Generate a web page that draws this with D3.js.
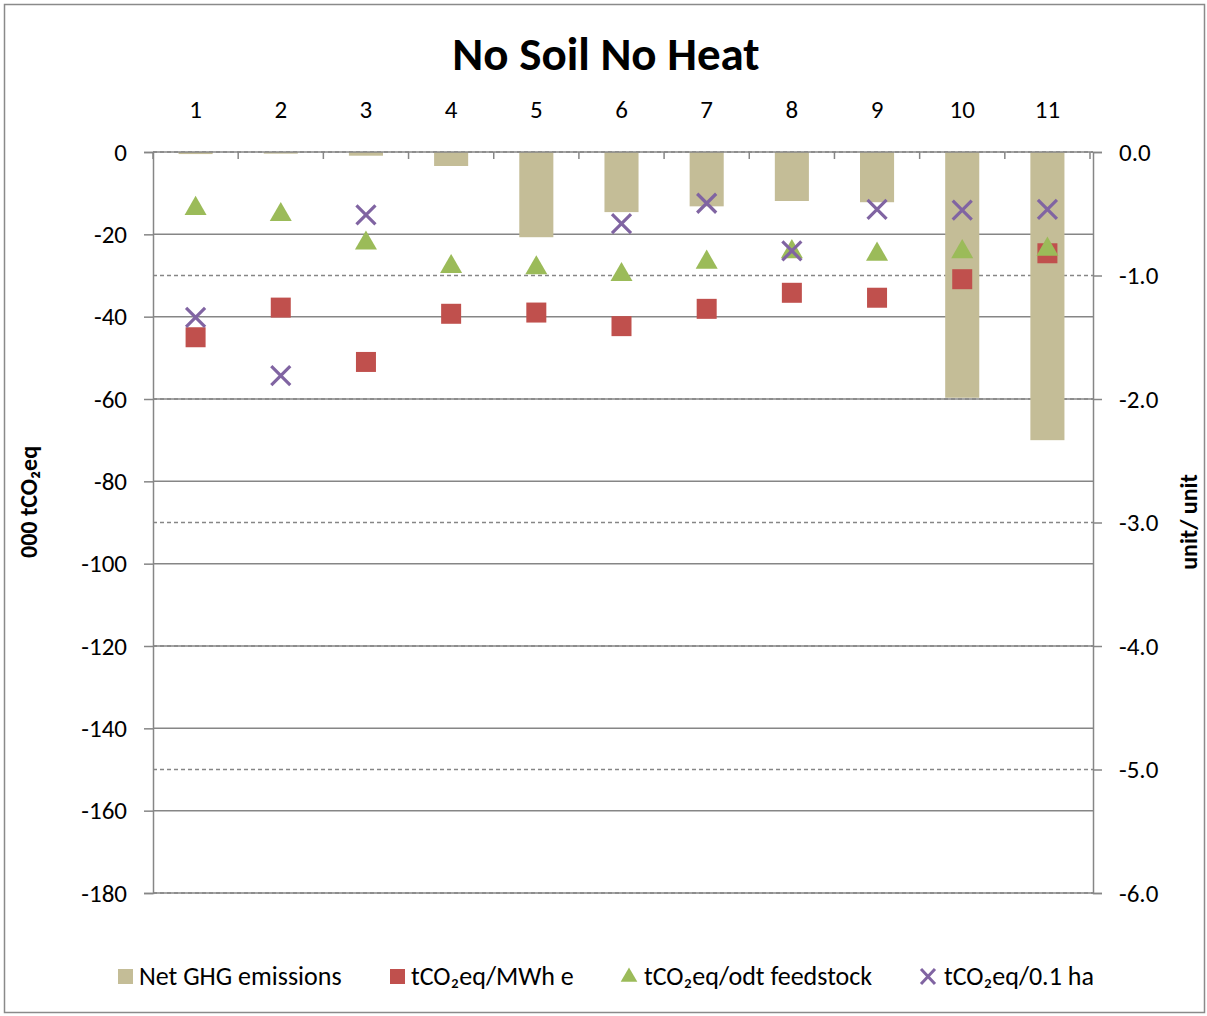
<!DOCTYPE html>
<html><head><meta charset="utf-8">
<script src="https://cdn.jsdelivr.net/npm/d3@7"></script>
<style>
html,body{margin:0;padding:0;background:#fff;}
text{font-family:Carlito, Lato, "Open Sans", sans-serif;}
</style></head>
<body>
<svg id="chart" width="1207" height="1016"></svg>
<script>
// ---- data ----
const categories = ["1","2","3","4","5","6","7","8","9","10","11"];
const netGHG = [-0.5,-0.4,-0.9,-3.4,-20.7,-14.6,-13.2,-11.9,-12.2,-59.7,-70.0];      // 000 tCO2eq (left axis)
const perMWh = [-1.50,-1.26,-1.70,-1.31,-1.30,-1.41,-1.27,-1.14,-1.18,-1.03,-0.82];    // right axis
const perOdt = [-0.45,-0.50,-0.73,-0.92,-0.93,-0.985,-0.885,-0.80,-0.82,-0.80,-0.78];  // right axis
const perHa  = [-1.34,-1.81,-0.51,null,null,-0.58,-0.415,-0.80,-0.465,-0.47,-0.465];  // right axis
const leftTicks = [0,-20,-40,-60,-80,-100,-120,-140,-160,-180];
const rightTicks = [0,-1,-2,-3,-4,-5,-6];
const seriesNames = ["Net GHG emissions","tCO\u2082eq/MWh e","tCO\u2082eq/odt feedstock","tCO\u2082eq/0.1 ha"];

const colors = {bar:"#C4BD97", sq:"#C0504D", tri:"#9BBB59", x:"#8064A2"};
const grid = "#868686";
const FS = 25;

const svg = d3.select("#chart");
const L=153, R=1093, T=152, B=893;

// outer border
svg.append("rect").attr("x",4.5).attr("y",4.5).attr("width",1200).attr("height",1008)
  .attr("fill","none").attr("stroke","#8a8a8a").attr("stroke-width",1.5);

const x = d3.scaleBand().domain(categories).range([L,1090]).padding(0);
const yL = d3.scaleLinear().domain([-180,0]).range([B,T]);
const yR = d3.scaleLinear().domain([-6,0]).range([B,T]);
const hy = v => String(v).replace("\u2212","-");

// gridlines: dashed (right ticks), solid (left ticks)
svg.append("g").selectAll("line").data(rightTicks).join("line")
  .attr("x1",L).attr("x2",R).attr("y1",d=>yR(d)).attr("y2",d=>yR(d))
  .attr("stroke",grid).attr("stroke-width",1.3).attr("stroke-dasharray","4,3");
svg.append("g").selectAll("line").data(leftTicks.filter(d=>d!==0)).join("line")
  .attr("x1",L).attr("x2",R).attr("y1",d=>yL(d)).attr("y2",d=>yL(d))
  .attr("stroke",grid).attr("stroke-width",1.5);

// bars
const bw = x.bandwidth()*0.4;
svg.append("g").selectAll("rect").data(netGHG).join("rect")
  .attr("x",(d,i)=>x(categories[i])+x.bandwidth()/2-bw/2)
  .attr("width",bw)
  .attr("y",yL(0))
  .attr("height",d=>yL(d)-yL(0))
  .attr("fill",colors.bar);

// left axis
const axL = svg.append("g").attr("transform",`translate(${L},0)`)
  .call(d3.axisLeft(yL).tickValues(leftTicks).tickFormat(d=>hy(d3.format("d")(d))).tickSize(9).tickPadding(17));
axL.select(".domain").attr("stroke",grid).attr("stroke-width",1.5);
axL.selectAll(".tick line").attr("stroke",grid).attr("stroke-width",1.5);
axL.selectAll(".tick text").attr("font-size",FS).attr("fill","#000").style("font-family","Carlito, Lato, sans-serif");

// right axis
const axR = svg.append("g").attr("transform",`translate(${R},0)`)
  .call(d3.axisRight(yR).tickValues(rightTicks).tickFormat(d=>hy(d3.format(".1f")(d))).tickSize(9).tickPadding(17));
axR.select(".domain").attr("stroke",grid).attr("stroke-width",1.5);
axR.selectAll(".tick line").attr("stroke",grid).attr("stroke-width",1.5);
axR.selectAll(".tick text").attr("font-size",FS).attr("fill","#000").style("font-family","Carlito, Lato, sans-serif");

// top category axis
const axT = svg.append("g").attr("transform",`translate(0,${T})`);
axT.append("line").attr("x1",L).attr("x2",R).attr("y1",0).attr("y2",0).attr("stroke",grid).attr("stroke-width",1.5);
axT.selectAll("line.tk").data(d3.range(categories.length+1)).join("line").attr("class","tk")
  .attr("x1",i=>L+i*x.step()).attr("x2",i=>L+i*x.step()).attr("y1",0).attr("y2",7)
  .attr("stroke",grid).attr("stroke-width",1.5);
axT.selectAll("text").data(categories).join("text")
  .attr("x",d=>x(d)+x.bandwidth()/2).attr("y",-34)
  .attr("text-anchor","middle").attr("font-size",FS).attr("fill","#000").text(d=>d);

// markers
const cx = i=>x(categories[i])+x.bandwidth()/2;
const ms = 20;
svg.append("g").selectAll("rect").data(perMWh).join("rect")
  .attr("x",(d,i)=>cx(i)-ms/2).attr("y",d=>yR(d)-ms/2).attr("width",ms).attr("height",ms)
  .attr("fill",colors.sq);
const tri = d3.symbol().type(d3.symbolTriangle).size(210);
svg.append("g").selectAll("path").data(perOdt).join("path")
  .attr("d",tri).attr("transform",(d,i)=>`translate(${cx(i)},${yR(d)+1})`)
  .attr("fill",colors.tri);
const xs = 9.5;
const xg = svg.append("g").selectAll("g").data(perHa.map((v,i)=>({v,i})).filter(d=>d.v!==null)).join("g")
  .attr("transform",d=>`translate(${cx(d.i)},${yR(d.v)})`);
xg.append("path").attr("d",`M${-xs},${-xs}L${xs},${xs}M${-xs},${xs}L${xs},${-xs}`)
  .attr("stroke",colors.x).attr("stroke-width",3.2).attr("fill","none");

// title
svg.append("text").attr("x",606).attr("y",70).attr("text-anchor","middle")
  .attr("font-size",47).attr("font-weight","bold").attr("fill","#000").text("No Soil No Heat");

// axis titles
svg.append("text").attr("transform","translate(37,502) rotate(-90)").attr("text-anchor","middle")
  .attr("font-size",24).attr("font-weight","bold").attr("fill","#000").text("000 tCO\u2082eq");
svg.append("text").attr("transform","translate(1197,522) rotate(-90)").attr("text-anchor","middle")
  .attr("font-size",24).attr("font-weight","bold").attr("fill","#000").text("unit/ unit");

// legend
const legY = 976;
const legX = [118, 390, 621, 920];
const lg = svg.append("g");
seriesNames.forEach((n,i)=>{
  const g = lg.append("g").attr("transform",`translate(${legX[i]},${legY})`);
  if(i===0) g.append("rect").attr("x",0).attr("y",-7).attr("width",15).attr("height",15).attr("fill",colors.bar);
  if(i===1) g.append("rect").attr("x",0).attr("y",-7).attr("width",15).attr("height",15).attr("fill",colors.sq);
  if(i===2) g.append("path").attr("d",d3.symbol().type(d3.symbolTriangle).size(120)).attr("transform","translate(8,1)").attr("fill",colors.tri);
  if(i===3) g.append("path").attr("d","M1,-7L15,8M1,8L15,-7").attr("stroke",colors.x).attr("stroke-width",3);
  g.append("text").attr("x",i===2?23:(i===3?24:21)).attr("y",9).attr("font-size",26).attr("fill","#000").text(n);
});
</script>
</body></html>
